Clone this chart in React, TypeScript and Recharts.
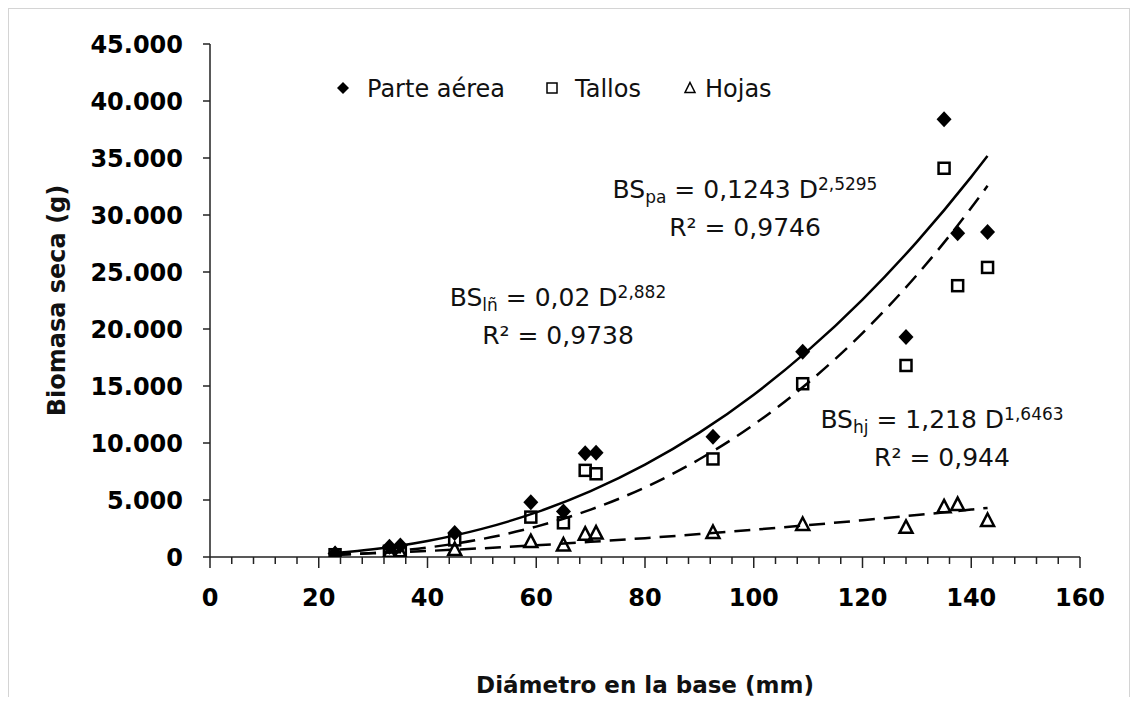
import { ComposedChart, Line, Scatter, XAxis, YAxis } from "recharts";

// diámetro en la base (mm) de cada árbol muestreado
const diametro = [23, 33, 35, 45, 59, 65, 69, 71, 92.5, 109, 128, 135, 137.5, 143];
const parteAerea = [300, 900, 1000, 2100, 4800, 4000, 9100, 9150, 10550, 18000, 19300, 38400, 28400, 28500];
const tallos = [200, 500, 550, 1500, 3500, 3000, 7600, 7300, 8600, 15200, 16800, 34100, 23800, 25400];
const hojas = [150, 350, 350, 650, 1350, 1050, 2000, 2100, 2150, 2850, 2600, 4400, 4600, 3200];

// curvas de ajuste (potencial)
const trendX = [23, 30, 40, 50, 60, 70, 80, 90, 100, 110, 120, 130, 140, 143];
const trendParteAerea = [346, 677, 1402, 2466, 3910, 5776, 8097, 10906, 14240, 18121, 22582, 27646, 33346, 35183];
const trendTallos = [168, 362, 828, 1576, 2665, 4156, 6105, 8573, 11616, 15288, 19646, 24738, 30630, 32558];
const trendHojas = [213, 329, 529, 763, 1030, 1328, 1655, 2009, 2389, 2795, 3226, 3680, 4157, 4305];

const xTicks = Array.from({ length: 41 }, (_, i) => i * 4);
const yTicks = [0, 5000, 10000, 15000, 20000, 25000, 30000, 35000, 40000, 45000];

const FONT = "'DejaVu Sans', sans-serif";

const toPoints = (xs: number[], ys: number[]) => xs.map((x, i) => ({ x, y: ys[i] }));

const fmtMiles = (v: number) => String(v).replace(/\B(?=(\d{3})+(?!\d))/g, ".");

const Diamond = ({ cx, cy }: any) => (
  <path d={`M${cx},${cy - 8} L${cx + 7.5},${cy} L${cx},${cy + 8} L${cx - 7.5},${cy} Z`} fill="#000" />
);
const Square = ({ cx, cy }: any) => (
  <rect x={cx - 5.5} y={cy - 5.5} width={11} height={11} fill="none" stroke="#000" strokeWidth={2.5} />
);
const Triangle = ({ cx, cy }: any) => (
  <path d={`M${cx},${cy - 7} L${cx + 6.5},${cy + 5.5} L${cx - 6.5},${cy + 5.5} Z`} fill="none" stroke="#000" strokeWidth={2.5} />
);

const XTick = ({ x, y, payload }: any) => {
  const major = payload.value % 20 === 0;
  return (
    <g>
      <line x1={x} x2={x} y1={y} y2={y + (major ? 11 : 7)} stroke="#222" strokeWidth={1.5} />
      {major && (
        <text x={x} y={y + 49} textAnchor="middle" fontFamily={FONT} fontWeight={700} fontSize={24} fill="#000">
          {payload.value}
        </text>
      )}
    </g>
  );
};

const Eq = ({ cx, y, base, sub, coef, exp, r2 }: any) => (
  <g fontFamily={FONT} fontSize={25} fill="#111">
    <text x={cx} y={y} textAnchor="middle">
      {base}
      <tspan fontSize={17} dy={5}>{sub}</tspan>
      <tspan dy={-5}>{` = ${coef} D`}</tspan>
      <tspan fontSize={17} dy={-8}>{exp}</tspan>
    </text>
    <text x={cx} y={y + 38} textAnchor="middle">{`R² = ${r2}`}</text>
  </g>
);

export default function App() {
  return (
    <div
      style={{
        position: "relative",
        width: 1122,
        height: 697,
        marginBottom: -8,
        border: "1px solid #d4d4d4",
        boxSizing: "border-box",
        background: "#fff",
      }}
    >
      <div style={{ position: "absolute", left: -1, top: -1 }}>
        <ComposedChart width={1122} height={697} margin={{ top: 36, right: 50, bottom: 6, left: 0 }}>
          <XAxis
            type="number"
            dataKey="x"
            domain={[0, 160]}
            ticks={xTicks}
            interval={0}
            height={142}
            tickSize={0}
            tickMargin={0}
            tickLine={false}
            tick={<XTick />}
            axisLine={{ stroke: "#222", strokeWidth: 1.5 }}
            allowDataOverflow
            label={{
              value: "Diámetro en la base (mm)",
              position: "insideBottom",
              offset: 6,
              style: { fontFamily: FONT, fontWeight: 700, fontSize: 23, fill: "#111" },
            }}
          />
          <YAxis
            type="number"
            dataKey="y"
            domain={[0, 45000]}
            ticks={yTicks}
            interval={0}
            width={202}
            tickSize={7}
            tickMargin={20}
            tickFormatter={fmtMiles}
            tick={{ fontFamily: FONT, fontWeight: 700, fontSize: 24, fill: "#000" }}
            tickLine={{ stroke: "#222", strokeWidth: 1.5 }}
            axisLine={{ stroke: "#222", strokeWidth: 1.5 }}
            allowDataOverflow
            label={{
              value: "Biomasa seca (g)",
              angle: -90,
              position: "insideLeft",
              offset: 48,
              style: { fontFamily: FONT, fontWeight: 700, fontSize: 24, fill: "#111", textAnchor: "middle" },
            }}
          />
          <Line
            data={toPoints(trendX, trendParteAerea)}
            dataKey="y"
            type="monotone"
            stroke="#000"
            strokeWidth={2.5}
            dot={false}
            activeDot={false}
            isAnimationActive={false}
          />
          <Line
            data={toPoints(trendX, trendTallos)}
            dataKey="y"
            type="monotone"
            stroke="#000"
            strokeWidth={2.5}
            strokeDasharray="16 9"
            dot={false}
            activeDot={false}
            isAnimationActive={false}
          />
          <Line
            data={toPoints(trendX, trendHojas)}
            dataKey="y"
            type="monotone"
            stroke="#000"
            strokeWidth={2.5}
            strokeDasharray="16 9"
            dot={false}
            activeDot={false}
            isAnimationActive={false}
          />
          <Scatter data={toPoints(diametro, hojas)} dataKey="y" shape={<Triangle />} isAnimationActive={false} />
          <Scatter data={toPoints(diametro, tallos)} dataKey="y" shape={<Square />} isAnimationActive={false} />
          <Scatter data={toPoints(diametro, parteAerea)} dataKey="y" shape={<Diamond />} isAnimationActive={false} />
        </ComposedChart>
      </div>

      {/* leyenda y ecuaciones */}
      <svg
        width={1122}
        height={691}
        style={{ position: "absolute", left: -1, top: -1, pointerEvents: "none" }}
      >
        <g fontFamily={FONT} fontSize={24} fill="#111">
          <path d="M335,74 L341,80 L335,86 L329,80 Z" fill="#000" />
          <text x={359} y={89}>Parte aérea</text>
          <rect x={539} y={75} width={10} height={10} fill="none" stroke="#000" strokeWidth={1.5} />
          <text x={567} y={89}>Tallos</text>
          <path d="M682,74.5 L687,84.5 L677,84.5 Z" fill="none" stroke="#000" strokeWidth={1.5} />
          <text x={697} y={89}>Hojas</text>
        </g>
        <Eq cx={737} y={190} base="BS" sub="pa" coef="0,1243" exp="2,5295" r2="0,9746" />
        <Eq cx={550} y={298} base="BS" sub="lñ" coef="0,02" exp="2,882" r2="0,9738" />
        <Eq cx={934} y={420} base="BS" sub="hj" coef="1,218" exp="1,6463" r2="0,944" />
      </svg>
    </div>
  );
}
